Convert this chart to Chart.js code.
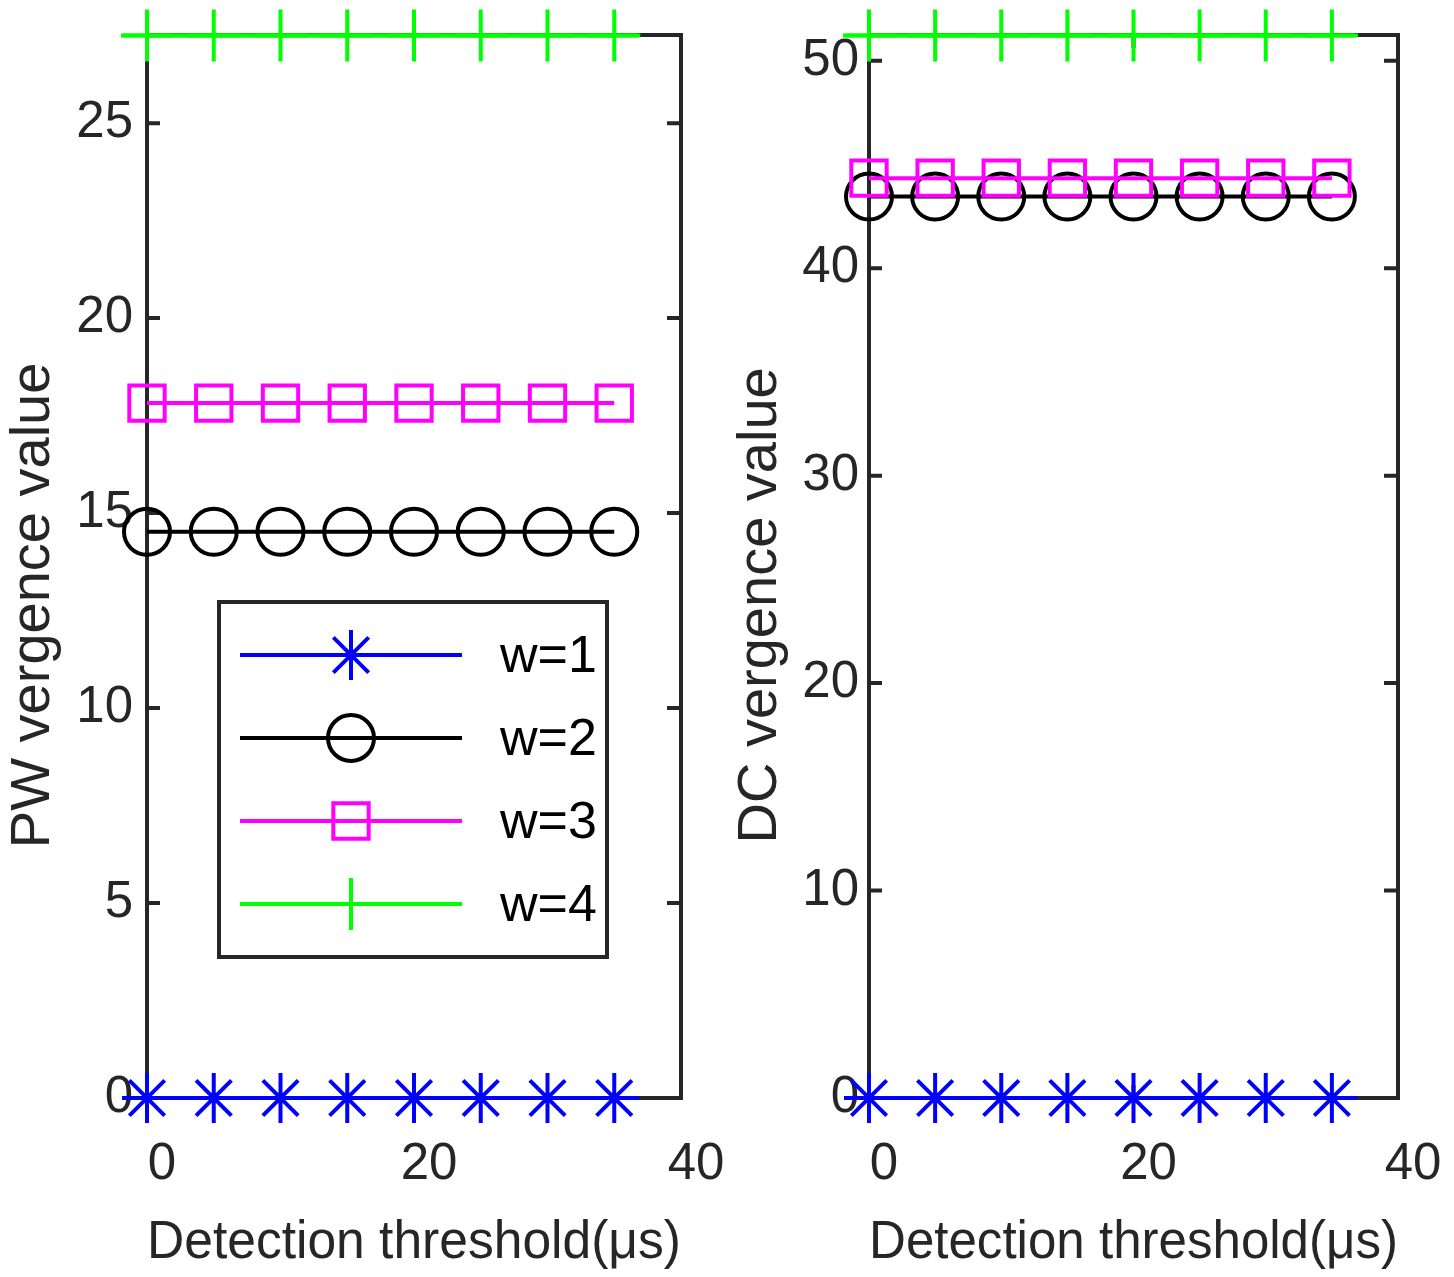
<!DOCTYPE html>
<html>
<head>
<meta charset="utf-8">
<script src="https://cdn.jsdelivr.net/npm/chart.js@4.4.1/dist/chart.umd.min.js"></script>
<style>
  html, body { margin: 0; padding: 0; background: #fff; }
  #wrap { position: relative; width: 1454px; height: 1277px; overflow: hidden; }
  canvas { position: absolute; top: 0; }
  #pw { left: 0; }
  #dc { left: 727px; }
</style>
</head>
<body>
<div id="wrap">
  <canvas id="pw" width="727" height="1277"></canvas>
  <canvas id="dc" width="727" height="1277"></canvas>
</div>
<script>
// detection thresholds (us)
const thresholds = [0, 5, 10, 15, 20, 25, 30, 35];
const seriesNames = ['w=1', 'w=2', 'w=3', 'w=4'];

// left panel: PW vergence value
const pwW1 = [0, 0, 0, 0, 0, 0, 0, 0];
const pwW2 = [14.52, 14.52, 14.52, 14.52, 14.52, 14.52, 14.52, 14.52];
const pwW3 = [17.82, 17.82, 17.82, 17.82, 17.82, 17.82, 17.82, 17.82];
const pwW4 = [27.25, 27.25, 27.25, 27.25, 27.25, 27.25, 27.25, 27.25];

// right panel: DC vergence value
const dcW1 = [0, 0, 0, 0, 0, 0, 0, 0];
const dcW2 = [43.45, 43.45, 43.45, 43.45, 43.45, 43.45, 43.45, 43.45];
const dcW3 = [44.34, 44.34, 44.34, 44.34, 44.34, 44.34, 44.34, 44.34];
const dcW4 = [51.22, 51.22, 51.22, 51.22, 51.22, 51.22, 51.22, 51.22];

const xTicks = [0, 20, 40];
const pwTicks = [0, 5, 10, 15, 20, 25];
const dcTicks = [0, 10, 20, 30, 40, 50];

// the w=1 / w=4 lines run a little past the end markers in the original
const edgeSpan = [-1.8, 36.7];

const colors = ['#0000ff', '#000000', '#ff00ff', '#00ff00'];
const markers = ['star', 'circle', 'rect', 'cross'];
const markerSize = [25, 23, 25, 26];
const axisColor = '#262626';

function makeDatasets(values) {
  const sets = values.map((v, i) => ({
    label: seriesNames[i],
    data: thresholds.map((x, j) => ({ x: x, y: v[j] })),
    borderColor: colors[i],
    backgroundColor: 'transparent',
    borderWidth: 4,
    pointStyle: markers[i],
    pointRadius: markerSize[i],
    pointHoverRadius: markerSize[i],
    pointBorderWidth: 4,
    pointBorderColor: colors[i],
    pointBackgroundColor: 'transparent',
    clip: false,
    order: 4 - i
  }));
  [0, 3].forEach(i => {
    sets.push({
      label: seriesNames[i] + ' edge',
      data: [{ x: edgeSpan[0], y: values[i][0] }, { x: edgeSpan[1], y: values[i][values[i].length - 1] }],
      borderColor: colors[i],
      borderWidth: 4,
      pointRadius: 0,
      clip: false,
      order: 4 - i
    });
  });
  return sets;
}

// box around plot + inward ticks, like matlab
const axesBox = {
  id: 'axesBox',
  beforeDatasetsDraw(chart) {
    const { ctx, chartArea: a } = chart;
    const x = chart.scales.x, y = chart.scales.y;
    ctx.save();
    ctx.strokeStyle = axisColor;
    ctx.lineWidth = 4;
    ctx.lineCap = 'square';
    ctx.strokeRect(a.left, a.top, a.right - a.left, a.bottom - a.top);
    ctx.beginPath();
    y.ticks.forEach(t => {
      const py = y.getPixelForValue(t.value);
      if (py <= a.top + 1 || py >= a.bottom - 1) return;
      ctx.moveTo(a.left, py); ctx.lineTo(a.left + 11, py);
      ctx.moveTo(a.right, py); ctx.lineTo(a.right - 12, py);
    });
    x.ticks.forEach(t => {
      const px = x.getPixelForValue(t.value);
      if (px <= a.left + 1 || px >= a.right - 1) return;
      ctx.moveTo(px, a.bottom); ctx.lineTo(px, a.bottom - 11);
      ctx.moveTo(px, a.top); ctx.lineTo(px, a.top + 11);
    });
    ctx.stroke();
    ctx.restore();
  }
};

// legend box sitting inside the left axes
const matlabLegend = {
  id: 'matlabLegend',
  afterDatasetsDraw(chart, args, opts) {
    const ctx = chart.ctx;
    const b = opts.box;
    ctx.save();
    ctx.fillStyle = '#ffffff';
    ctx.fillRect(b[0], b[1], b[2], b[3]);
    ctx.strokeStyle = axisColor;
    ctx.lineWidth = 4;
    ctx.strokeRect(b[0], b[1], b[2], b[3]);
    chart.data.datasets.slice(0, 4).forEach((ds, i) => {
      const ry = opts.rowY[i];
      ctx.strokeStyle = ds.borderColor;
      ctx.lineWidth = 4;
      ctx.beginPath();
      ctx.moveTo(opts.lineX[0], ry);
      ctx.lineTo(opts.lineX[1], ry);
      ctx.stroke();
      ctx.fillStyle = 'rgba(0,0,0,0)';
      Chart.helpers.drawPoint(ctx, {
        pointStyle: ds.pointStyle, radius: ds.pointRadius, borderWidth: 4, rotation: 0
      }, (opts.lineX[0] + opts.lineX[1]) / 2, ry);
      ctx.fillStyle = '#000000';
      ctx.font = '52px "Liberation Sans", Arial, sans-serif';
      ctx.textAlign = 'left';
      ctx.textBaseline = 'middle';
      ctx.fillText(ds.label, opts.textX, ry + 3);
    });
    ctx.restore();
  }
};

const tickFont = { family: '"Liberation Sans", Arial, sans-serif', size: 51 };
const titleFont = { family: '"Liberation Sans", Arial, sans-serif', size: 54 };

// stop chart.js from widening the layout for overhanging tick labels
function noScalePadding(s) {
  s.paddingTop = 0; s.paddingBottom = 0; s.paddingLeft = 0; s.paddingRight = 0;
}

function makeChart(id, values, yTicks, yMax, yTitle, yWidth, padRight, yPad, legendOpts) {
  return new Chart(document.getElementById(id), {
    type: 'line',
    data: { datasets: makeDatasets(values) },
    options: {
      responsive: false,
      animation: false,
      events: [],
      layout: { padding: { left: 0, right: padRight, top: 35, bottom: 0 } },
      plugins: {
        legend: { display: false },
        tooltip: { enabled: false },
        matlabLegend: legendOpts
      },
      scales: {
        x: {
          type: 'linear',
          min: 0,
          max: 40,
          afterBuildTicks: s => { s.ticks = xTicks.map(v => ({ value: v })); },
          afterFit: s => { s.height = 179; noScalePadding(s); },
          grid: { display: false, drawTicks: false },
          border: { display: false },
          ticks: { font: tickFont, color: axisColor, padding: 36, labelOffset: 15, maxRotation: 0, autoSkip: false },
          title: {
            display: true, text: 'Detection threshold(\u03bcs)', color: axisColor,
            font: titleFont, padding: { top: 0, bottom: 1 }
          }
        },
        y: {
          type: 'linear',
          min: 0,
          max: yMax,
          afterBuildTicks: s => { s.ticks = yTicks.map(v => ({ value: v })); },
          afterFit: s => { s.width = yWidth; noScalePadding(s); },
          grid: { display: false, drawTicks: false },
          border: { display: false },
          ticks: { font: tickFont, color: axisColor, padding: yPad },
          title: {
            display: true, text: yTitle, color: axisColor,
            font: { family: titleFont.family, size: 56 }, padding: { top: 0, bottom: 0 }
          }
        }
      }
    },
    plugins: [axesBox, matlabLegend]
  });
}

makeChart('pw', [pwW1, pwW2, pwW3, pwW4], pwTicks, 27.26,
  'PW vergence value     ', 147, 46, 14,
  { box: [219, 602, 388, 355], lineX: [240, 462], rowY: [655, 738, 821, 904], textX: 500 });

makeChart('dc', [dcW1, dcW2, dcW3, dcW4], dcTicks, 51.24,
  'DC vergence value     ', 142, 56, 10, false);
</script>
</body>
</html>
